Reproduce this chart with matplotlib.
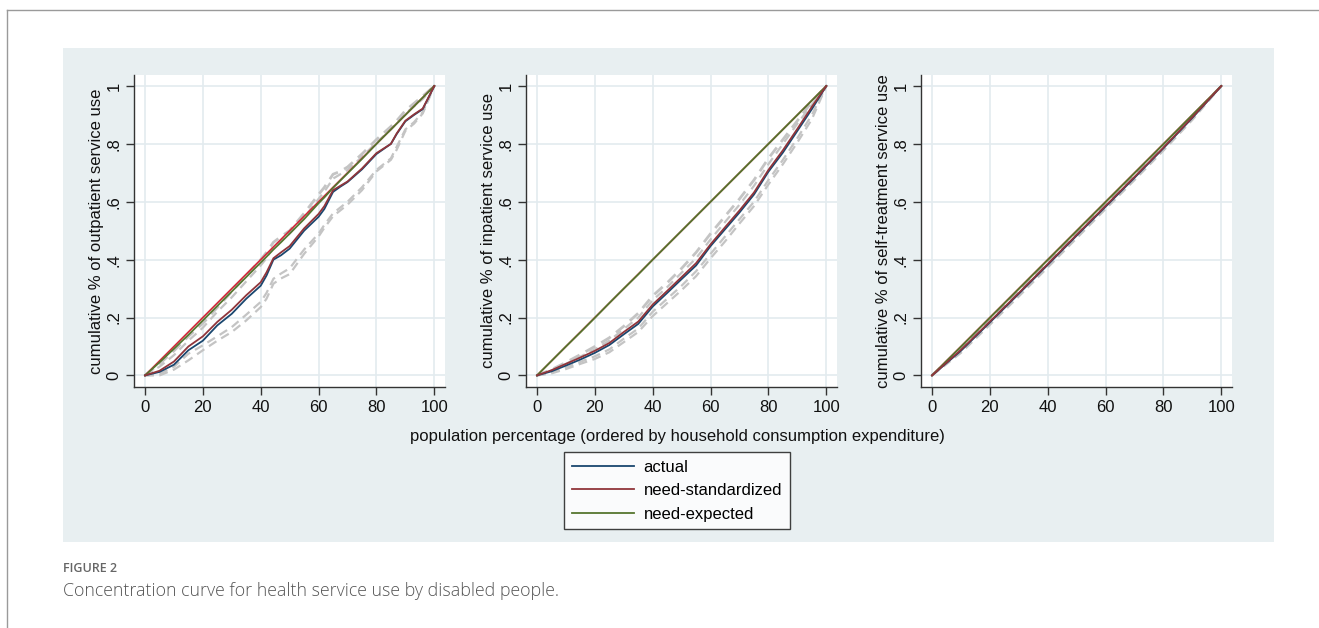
import matplotlib
matplotlib.use("Agg")
import matplotlib.pyplot as plt
from matplotlib.patches import Rectangle
from matplotlib.lines import Line2D

plt.rcParams['font.family'] = ['Liberation Sans', 'DejaVu Sans']

# ---------------- data ----------------
series_names = ["actual", "need-standardized", "need-expected"]
y_labels = ["cumulative % of outpatient service use",
            "cumulative % of inpatient service use",
            "cumulative % of self-treatment service use"]
x_label = "population percentage (ordered by household consumption expenditure)"
x_ticks = [0, 20, 40, 60, 80, 100]
y_ticks = [0, 0.2, 0.4, 0.6, 0.8, 1.0]
y_ticklabels = ["0", ".2", ".4", ".6", ".8", "1"]

# Panel 1: outpatient
x_out = [0, 5, 10, 15, 20, 25, 30, 35, 40, 42, 44.4, 47, 50, 55, 60, 62, 65, 67.5, 70, 75, 80, 85, 87, 90, 93, 96, 100]
out_actual = [0, 0.012, 0.037, 0.087, 0.12, 0.173, 0.213, 0.265, 0.31, 0.345, 0.40, 0.415, 0.438, 0.50, 0.548, 0.575, 0.634, 0.652, 0.668, 0.712, 0.765, 0.80, 0.834, 0.878, 0.90, 0.92, 1.0]
out_std = [0, 0.016, 0.048, 0.10, 0.135, 0.185, 0.227, 0.277, 0.322, 0.356, 0.405, 0.425, 0.447, 0.508, 0.558, 0.585, 0.64, 0.655, 0.67, 0.715, 0.768, 0.80, 0.836, 0.88, 0.902, 0.922, 1.0]
out_exp = [0, 0.045, 0.092, 0.14, 0.19, 0.24, 0.29, 0.34, 0.39, 0.41, 0.435, 0.46, 0.49, 0.54, 0.595, 0.615, 0.648, 0.673, 0.698, 0.748, 0.80, 0.85, 0.87, 0.90, 0.93, 0.96, 1.0]
out_ci = [
    [0, 0.04, 0.085, 0.135, 0.18, 0.235, 0.29, 0.345, 0.40, 0.425, 0.46, 0.48, 0.50, 0.56, 0.625, 0.65, 0.695, 0.705, 0.72, 0.765, 0.815, 0.86, 0.88, 0.915, 0.94, 0.965, 1.0],
    [0, 0.03, 0.07, 0.12, 0.165, 0.22, 0.27, 0.325, 0.38, 0.405, 0.445, 0.465, 0.49, 0.545, 0.61, 0.635, 0.68, 0.695, 0.71, 0.755, 0.805, 0.85, 0.87, 0.905, 0.93, 0.955, 1.0],
    [0, 0.0, 0.02, 0.052, 0.087, 0.12, 0.15, 0.19, 0.236, 0.265, 0.317, 0.335, 0.35, 0.42, 0.48, 0.51, 0.55, 0.57, 0.59, 0.64, 0.705, 0.745, 0.78, 0.845, 0.87, 0.905, 1.0],
    [0, 0.005, 0.03, 0.075, 0.104, 0.135, 0.167, 0.21, 0.254, 0.285, 0.334, 0.352, 0.37, 0.435, 0.49, 0.52, 0.56, 0.58, 0.60, 0.65, 0.71, 0.75, 0.79, 0.85, 0.875, 0.91, 1.0],
]

# Panel 2: inpatient
x_in = [0, 5, 10, 15, 20, 25, 30, 35, 40, 45, 50, 55, 60, 65, 70, 75, 80, 85, 90, 95, 100]
in_actual = [0, 0.014, 0.034, 0.055, 0.078, 0.105, 0.142, 0.178, 0.238, 0.285, 0.333, 0.38, 0.447, 0.505, 0.563, 0.625, 0.704, 0.77, 0.845, 0.92, 1.0]
in_std = [0, 0.018, 0.04, 0.062, 0.085, 0.112, 0.15, 0.186, 0.245, 0.292, 0.34, 0.388, 0.453, 0.512, 0.57, 0.632, 0.71, 0.778, 0.852, 0.928, 1.0]
in_exp = [0, 0.05, 0.10, 0.149, 0.199, 0.25, 0.30, 0.349, 0.40, 0.45, 0.50, 0.55, 0.60, 0.65, 0.70, 0.75, 0.80, 0.85, 0.90, 0.95, 1.0]
in_ci = [
    [0, 0.02, 0.045, 0.072, 0.10, 0.13, 0.17, 0.215, 0.275, 0.32, 0.37, 0.425, 0.49, 0.55, 0.61, 0.675, 0.75, 0.815, 0.88, 0.945, 1.0],
    [0, 0.017, 0.04, 0.065, 0.09, 0.12, 0.16, 0.20, 0.26, 0.305, 0.355, 0.405, 0.47, 0.53, 0.59, 0.655, 0.73, 0.80, 0.87, 0.935, 1.0],
    [0, 0.01, 0.027, 0.047, 0.066, 0.09, 0.127, 0.162, 0.22, 0.265, 0.31, 0.36, 0.42, 0.48, 0.54, 0.60, 0.675, 0.745, 0.82, 0.90, 1.0],
    [0, 0.007, 0.022, 0.04, 0.057, 0.08, 0.115, 0.15, 0.205, 0.25, 0.295, 0.343, 0.405, 0.463, 0.525, 0.585, 0.66, 0.73, 0.805, 0.885, 1.0],
]

# Panel 3: self-treatment
x_self = [0, 10, 20, 30, 40, 50, 60, 70, 80, 90, 100]
self_actual = [0, 0.085, 0.183, 0.282, 0.382, 0.483, 0.583, 0.683, 0.785, 0.89, 1.0]
self_std = [0, 0.088, 0.186, 0.285, 0.385, 0.486, 0.586, 0.686, 0.787, 0.892, 1.0]
self_exp = [0, 0.099, 0.199, 0.299, 0.399, 0.499, 0.599, 0.699, 0.799, 0.90, 1.0]
self_ci = [
    [0, 0.093, 0.192, 0.292, 0.392, 0.492, 0.592, 0.692, 0.792, 0.895, 1.0],
    [0, 0.078, 0.175, 0.273, 0.373, 0.474, 0.575, 0.675, 0.777, 0.883, 1.0],
]

equality_x = [0, 100]
equality_y = [0, 1]

panels = [
    (x_out, out_actual, out_std, out_exp, out_ci),
    (x_in, in_actual, in_std, in_exp, in_ci),
    (x_self, self_actual, self_std, self_exp, self_ci),
]

# ---------------- style ----------------
C_ACT = "#1a476f"
C_STD = "#90353b"
C_EXP = "#55752f"
C_EQ = "#d0283a"
C_CI = "#c4c4c4"
C_GRID = "#e3ebef"
C_BG = "#e8eff1"

W, H = 1319, 628
fig = plt.figure(figsize=(W / 100, H / 100), dpi=100)
fig.patch.set_facecolor("white")

def fx(px):
    return px / W

def fy(py):
    return 1 - py / H

# outer frame (left + top)
fig.add_artist(Line2D([fx(6.5), fx(6.5)], [fy(10), fy(628)], color="#9a9a9a", lw=1.0))
fig.add_artist(Line2D([fx(6.5), fx(1319)], [fy(10), fy(10)], color="#9a9a9a", lw=1.0))
# gray graph region
fig.add_artist(Rectangle((fx(63), fy(542)), fx(1274) - fx(63), fy(48) - fy(542),
                         facecolor=C_BG, edgecolor="none", zorder=0))

axes_lefts = [134, 526, 921]
ax_w = 311
ax_top, ax_bot = 75, 387

for i, (xs, act, std, exp, cis) in enumerate(panels):
    ax = fig.add_axes([fx(axes_lefts[i]), fy(ax_bot), ax_w / W, (ax_bot - ax_top) / H])
    ax.set_facecolor("white")
    ax.set_xlim(-3.8, 103.7)
    ax.set_ylim(-0.04, 1.038)
    ax.set_xticks(x_ticks)
    ax.set_yticks(y_ticks)
    ax.set_yticklabels(y_ticklabels, rotation=90, va="center")
    ax.grid(True, color=C_GRID, lw=1.2)
    ax.set_axisbelow(True)
    for s in ["top", "right"]:
        ax.spines[s].set_visible(False)
    for s in ["left", "bottom"]:
        ax.spines[s].set_color("#333333")
        ax.spines[s].set_linewidth(1.0)
    ax.tick_params(axis="both", direction="out", length=6, width=1, color="#333333",
                   labelsize=12, labelcolor="#111111", pad=3)
    ax.set_ylabel(y_labels[i], fontsize=12, color="#111111", labelpad=2)

    for k, ci in enumerate(cis):
        ax.plot(xs, ci, color=C_CI, lw=2.0 if k == 0 else 1.6, ls=(0, (4, 2.5)), zorder=2)
    ax.plot(equality_x, equality_y, color=C_EQ, lw=1.2, zorder=3)
    ax.plot(xs, act, color=C_ACT, lw=1.3, zorder=4)
    ax.plot(xs, std, color=C_STD, lw=1.3, zorder=5)
    ax.plot(xs, exp, color=C_EXP, lw=1.3, zorder=4)

fig.text(fx(677), fy(436), x_label, ha="center", va="center", fontsize=12, color="#111111")

handles = [Line2D([], [], color=c, lw=1.3) for c in (C_ACT, C_STD, C_EXP)]
leg = fig.legend(handles, series_names, loc="upper center", bbox_to_anchor=(fx(677), fy(452)),
                 fontsize=12, frameon=True, fancybox=False, edgecolor="#111111",
                 handlelength=3.7, handletextpad=0.6, borderpad=0.45, labelspacing=0.52,
                 borderaxespad=0)
leg.get_frame().set_linewidth(1.0)
leg.get_frame().set_facecolor("white")

fig.text(fx(63), fy(569), "FIGURE 2", ha="left", va="center", fontsize=9,
         color="#666666", family=["Open Sans", "DejaVu Sans"], fontweight="semibold")
fig.text(fx(63), fy(591), "Concentration curve for health service use by disabled people.",
         ha="left", va="center", fontsize=12.8, color="#555555", family=["Open Sans", "DejaVu Sans"],
         fontweight="light")

fig.savefig("out.png", dpi=100)
